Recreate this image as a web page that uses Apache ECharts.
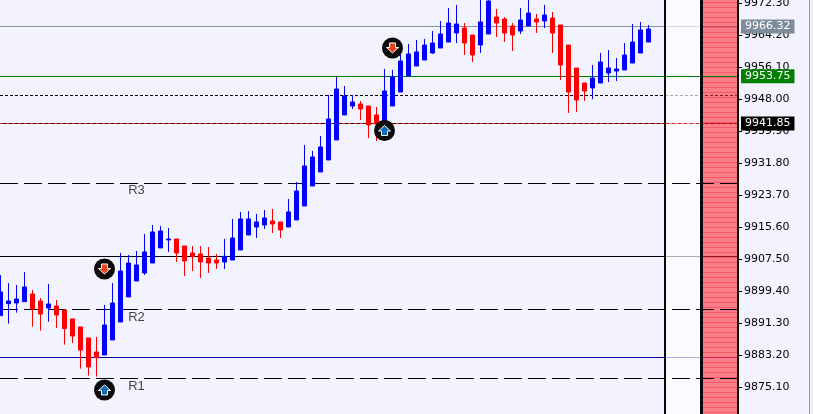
<!DOCTYPE html>
<html><head><meta charset="utf-8">
<style>html,body{margin:0;padding:0;background:#f2f3ff}#c{width:813px;height:414px}</style>
<script src="https://cdn.jsdelivr.net/npm/echarts@6/dist/echarts.min.js"></script>
</head><body><div id="c"></div>
<script>
const opens=[9893.26,9896.30,9896.46,9896.80,9898.74,9896.97,9895.20,9895.71,9894.69,9892.42,9890.40,9887.62,9884.08,9883.32,9887.11,9891.66,9897.98,9902.02,9904.05,9906.57,9910.37,9912.39,9912.64,9910.87,9909.10,9908.85,9907.84,9907.33,9906.83,9907.33,9909.86,9913.65,9915.67,9916.18,
9917.19,9916.94,9915.68,9917.45,9920.98,9926.04,9929.58,9932.61,9937.67,9943.99,9946.26,9946.77,9946.26,9943.99,9941.89,9946.26,9949.79,9953.84,9956.37,9957.88,9959.65,9960.92,9962.43,9964.71,9965.97,9964.20,9961.67,9964.46,9968.75,9968.25,9966.48,9965.21,9966.48,9968.25,9967.74,9968.50,9966.73,9961.67,9955.86,9952.07,9950.81,9952.07,9954.60,9955.10,9955.36,9957.12,9959.65,9962.43];
const closes=[9899.24,9896.97,9897.47,9900.51,9894.95,9893.68,9896.21,9893.43,9889.98,9888.12,9884.58,9880.29,9882.65,9890.90,9896.46,9904.55,9906.57,9906.07,9909.36,9914.41,9914.66,9912.64,9909.10,9907.08,9908.18,9906.83,9906.57,9906.57,9908.26,9912.89,9917.70,9917.70,9916.94,9917.95,
9916.43,9914.92,9919.47,9924.78,9931.10,9933.37,9935.90,9942.98,9950.56,9948.79,9947.27,9945.50,9941.46,9941.71,9950.05,9953.59,9957.63,9959.40,9959.91,9961.67,9962.18,9964.46,9967.24,9966.98,9962.18,9959.15,9967.49,9972.80,9967.24,9964.71,9964.20,9967.99,9969.76,9967.49,9969.26,9964.71,9956.62,9949.79,9947.77,9950.05,9953.33,9957.38,9955.86,9955.61,9959.15,9962.43,9965.47,9965.72];
const lows=[9893.26,9891.24,9894.02,9896.80,9890.48,9889.47,9891.75,9890.14,9885.93,9886.35,9879.86,9878.09,9877.84,9883.32,9887.11,9891.66,9897.98,9902.02,9903.54,9906.57,9910.37,9909.36,9906.83,9903.29,9904.55,9902.78,9904.05,9905.06,9905.06,9907.33,9909.86,9913.65,9912.89,9915.17,
9914.16,9912.89,9915.68,9917.45,9920.98,9926.04,9929.58,9932.61,9937.67,9943.99,9945.50,9942.72,9938.17,9937.41,9941.60,9946.26,9949.79,9953.84,9956.37,9957.88,9959.40,9960.92,9962.43,9962.18,9959.15,9957.38,9959.65,9964.46,9963.70,9962.43,9960.16,9964.46,9966.48,9964.71,9965.97,9959.65,9952.83,9944.49,9944.74,9947.52,9948.02,9952.07,9952.32,9952.57,9955.36,9957.12,9959.65,9962.43];
const highs=[9903.54,9901.52,9901.01,9904.30,9899.75,9897.73,9901.27,9897.22,9894.69,9892.42,9890.40,9887.62,9887.87,9895.96,9901.52,9909.10,9908.60,9909.61,9913.91,9916.18,9915.93,9915.42,9912.64,9910.87,9910.87,9910.87,9910.62,9908.85,9912.64,9917.70,9919.47,9919.72,9918.96,9919.97,
9920.23,9916.94,9922.75,9927.05,9936.40,9934.89,9938.68,9949.04,9953.59,9951.32,9949.04,9947.53,9946.26,9946.01,9955.62,9955.36,9961.25,9961.93,9962.94,9963.19,9965.21,9967.74,9971.03,9971.79,9967.24,9964.20,9974.00,9975.00,9970.78,9968.75,9967.24,9971.03,9973.50,9969.51,9971.79,9970.02,9966.73,9961.67,9955.86,9952.07,9956.62,9959.65,9960.41,9958.39,9962.18,9966.98,9967.49,9966.73];
const tickValues=[9875.1,9883.2,9891.3,9899.4,9907.5,9915.6,9923.7,9931.8,9939.9,9948.0,9956.1,9964.2,9972.3];
const bidPrice=9966.32, greenPrice=9953.75, blackPrice=9941.85, dottedPrice=9948.91;
const solidLevels=[9908.21], navyLevels=[9882.68];
const dashedLevels=[9926.79,9894.82,9877.37];
const levelNames=['R3','R2','R1'];
const levelNameX=[17,17,17], levelNameY=[9925.02,9892.92,9875.48];
const upMarkers=[[13,9874.47],[48,9940.06]];
const downMarkers=[[13,9905.05],[49,9960.92]];

const candles=opens.map((o,i)=>[i,o,closes[i],lows[i],highs[i]]);
const ARROW='path://M6 0 L12 5.5 L9 5.5 L9 10 L3 10 L3 5.5 L0 5.5 Z';
const FONT='"DejaVu Sans"';
const tag=(bg)=>({show:true,position:'end',distance:3,formatter:p=>p.value.toFixed(2),color:'#fff',backgroundColor:bg,padding:[2,4,2,4],fontFamily:FONT,fontSize:11,lineHeight:10});
const solid=(c)=>({type:'solid',color:c,width:1});
const noLabel={show:false};

const stripes=[];
for(let y=2;y<414;y+=5){stripes.push({type:'rect',z:21,silent:true,shape:{x:703,y:y,width:34,height:1},style:{fill:'rgba(235,60,80,0.55)'}});}

const chart=echarts.init(document.getElementById('c'),null,{renderer:'canvas'});
chart.setOption({
 animation:false,
 backgroundColor:'#f2f3ff',
 grid:{left:0,right:75,top:0,bottom:0,outerBoundsMode:'none'},
 xAxis:{type:'value',min:-0.0625,max:92.1875,show:false},
 yAxis:{type:'value',position:'right',min:9868.4,max:9973.05,splitLine:{show:false},
  axisLine:{show:true,onZero:false,lineStyle:{color:'#000',width:1}},
  axisTick:{show:true,length:4,customValues:tickValues,lineStyle:{color:'#000'}},
  axisLabel:{customValues:tickValues,formatter:v=>v.toFixed(2),color:'#000',fontFamily:FONT,fontSize:11,margin:6,padding:[2,0,0,0]}},
 graphic:{elements:[
  {type:'rect',z:20,silent:true,shape:{x:666,y:0,width:34,height:414},style:{fill:'rgba(255,255,255,0.68)'}},
  {type:'rect',z:20,silent:true,shape:{x:703,y:0,width:34,height:414},style:{fill:'rgba(255,40,50,0.58)'}},
  {type:'rect',z:26,silent:true,shape:{x:664,y:0,width:2,height:414},style:{fill:'#0a0a0a'}},
  {type:'rect',z:26,silent:true,shape:{x:700,y:0,width:3,height:414},style:{fill:'#0a0a0a'}},
  {type:'rect',z:26,silent:true,shape:{x:737,y:0,width:2,height:414},style:{fill:'#0a0a0a'}},
  {type:'rect',z:26,silent:true,shape:{x:809,y:0,width:1,height:414},style:{fill:'#9a9aa0'}},
  {type:'rect',z:26,silent:true,shape:{x:810,y:0,width:3,height:414},style:{fill:'#f0f0f0'}},
  ...stripes]},
 series:[
  {type:'line',data:[],silent:true,z:1,
   markLine:{silent:true,symbol:'none',z:1,animation:false,label:noLabel,data:[
    {yAxis:bidPrice,lineStyle:solid('#8a8f9c'),label:tag('#7f8c9c')},
    {yAxis:dottedPrice,lineStyle:{type:[3,2],color:'#000',width:1},label:noLabel},
    {yAxis:blackPrice,lineStyle:solid('#000'),label:tag('#000')},
    ...solidLevels.map(v=>({yAxis:v,lineStyle:solid('#000'),label:noLabel})),
    ...navyLevels.map(v=>({yAxis:v,lineStyle:solid('#0000a0'),label:noLabel}))
   ]}},
  {type:'line',data:[],silent:true,z:25,
   markLine:{silent:true,symbol:'none',z:25,animation:false,label:noLabel,data:[
    {yAxis:greenPrice,lineStyle:solid('#008000'),label:tag('#008000')},
    {yAxis:blackPrice,lineStyle:{type:[3,3],color:'#e02020',width:1},label:noLabel},
    ...dashedLevels.map(v=>({yAxis:v,lineStyle:{type:[18,6],color:'#000',width:1},label:noLabel}))
   ]}},
  {type:'candlestick',z:30,silent:true,barWidth:4,clip:true,
   itemStyle:{color:'#0000ff',color0:'#ff0000',borderColor:'#0000ff',borderColor0:'#ff0000',borderWidth:1},
   data:candles},
  {type:'scatter',z:31,silent:true,symbol:'circle',symbolSize:21,itemStyle:{color:'#0c0c0c',opacity:1},
   data:[...upMarkers,...downMarkers]},
  {type:'scatter',z:32,silent:true,symbol:ARROW,symbolSize:12,symbolKeepAspect:true,
   itemStyle:{color:'#0f6cb5',borderColor:'#fff',borderWidth:1,opacity:1},data:upMarkers},
  {type:'scatter',z:32,silent:true,symbol:ARROW,symbolSize:12,symbolRotate:180,symbolKeepAspect:true,
   itemStyle:{color:'#e8431f',borderColor:'#fff',borderWidth:1,opacity:1},data:downMarkers},
  {type:'scatter',z:33,silent:true,symbolSize:0,
   label:{show:true,position:'inside',formatter:p=>p.name,color:'#111',fontFamily:'"Liberation Sans"',fontSize:13},
   data:levelNames.map((n,i)=>({name:n,value:[levelNameX[i],levelNameY[i]]}))}
 ]
});
</script></body></html>
